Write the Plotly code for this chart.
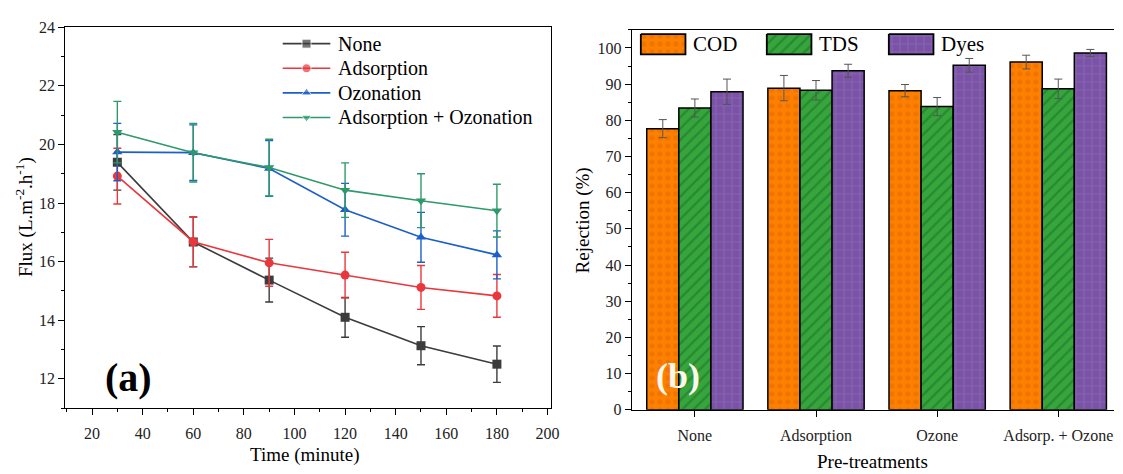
import plotly.graph_objects as go

# ---------------- data: panel (a) ----------------
time_min = [30, 60, 90, 120, 150, 180]
flux_none = [19.39, 16.67, 15.37, 14.10, 13.13, 12.50]
flux_none_err = [0.95, 0.85, 0.75, 0.68, 0.65, 0.62]
flux_ads = [18.92, 16.68, 15.96, 15.54, 15.12, 14.83]
flux_ads_err = [0.95, 0.85, 0.80, 0.78, 0.75, 0.73]
flux_oz = [19.74, 19.72, 19.18, 17.77, 16.83, 16.23]
flux_oz_err = [0.98, 0.95, 0.95, 0.90, 0.85, 0.82]
flux_adsoz = [20.42, 19.72, 19.21, 18.44, 18.08, 17.74]
flux_adsoz_err = [1.05, 1.00, 0.97, 0.93, 0.92, 0.90]

series_a = [
    ("None", flux_none, flux_none_err, "#3c3c3c", "square"),
    ("Adsorption", flux_ads, flux_ads_err, "#e8383d", "circle"),
    ("Ozonation", flux_oz, flux_oz_err, "#1c5fc9", "triangle-up"),
    ("Adsorption + Ozonation", flux_adsoz, flux_adsoz_err, "#2e9a6c", "triangle-down"),
]

# ---------------- data: panel (b) ----------------
pretreatments = ["None", "Adsorption", "Ozone", "Adsorp. + Ozone"]
cod = [77.7, 88.9, 88.2, 96.1]
cod_err = [2.5, 3.5, 1.7, 1.9]
tds = [83.4, 88.3, 83.8, 88.7]
tds_err = [2.5, 2.7, 2.5, 2.7]
dyes = [87.9, 93.7, 95.2, 98.6]
dyes_err = [3.5, 1.8, 1.9, 1.0]

W, H = 1123, 474
FONT = "Liberation Serif, Times New Roman, serif"

def px(x):
    return x / W

def py(y):
    return 1 - y / H

fig = go.Figure()

for name, vals, errs, col, sym in series_a:
    fig.add_trace(go.Scatter(
        x=time_min, y=vals, name=name, mode="lines+markers", showlegend=False,
        line=dict(color=col, width=1.6),
        marker=dict(symbol=sym, size=9, color=col),
        error_y=dict(type="data", array=errs, color=col, thickness=1.4, width=4),
        xaxis="x", yaxis="y",
    ))

bar_specs = [
    ("COD", cod, cod_err, "#ff8000", dict(shape=".", fgcolor="#e06a00", bgcolor="#ff8000", size=8, solidity=0.35)),
    ("TDS", tds, tds_err, "#36a53c", dict(shape="/", fgcolor="#1c6e27", bgcolor="#36a53c", size=8, solidity=0.3)),
    ("Dyes", dyes, dyes_err, "#7a52a6", dict(shape="+", fgcolor="#9677c0", bgcolor="#7a52a6", size=8, solidity=0.25)),
]
for name, vals, errs, col, pat in bar_specs:
    fig.add_trace(go.Bar(
        x=pretreatments, y=vals, name=name, showlegend=False,
        marker=dict(color=col, pattern=pat, line=dict(color="black", width=1.5)),
        error_y=dict(type="data", array=errs, color="#555555", thickness=1, width=4),
        xaxis="x2", yaxis="y2",
    ))

# ---- legends drawn on a pixel-coordinate overlay axis ----
# panel (a) legend: line sample with marker, then label
leg_a_rows = [37, 62.5, 88, 113.5]
for (name, _, _, col, sym), ry in zip(series_a, leg_a_rows):
    fig.add_trace(go.Scatter(
        x=[285, 309, 333], y=[ry, ry, ry], mode="lines+markers",
        line=dict(color=col, width=1.6), marker=dict(symbol=sym, size=[0, 9, 0], color=col),
        showlegend=False, hoverinfo="skip", xaxis="x3", yaxis="y3",
    ))
    fig.add_annotation(text=name, x=px(339), y=py(ry), xref="paper", yref="paper",
                       xanchor="left", yanchor="middle", showarrow=False,
                       font=dict(family=FONT, size=20, color="black"))

# panel (b) legend: patterned swatches
leg_b = [("COD", 646, "#ff8000", bar_specs[0][4]),
         ("TDS", 773, "#36a53c", bar_specs[1][4]),
         ("Dyes", 896, "#7a52a6", bar_specs[2][4])]
for name, x0, col, pat in leg_b:
    fig.add_trace(go.Scatter(
        x=[x0, x0 + 45, x0 + 45, x0, x0], y=[27, 27, 48, 48, 27],
        mode="lines", fill="toself", fillcolor=col, fillpattern=pat,
        line=dict(color="black", width=1.8), showlegend=False, hoverinfo="skip",
        xaxis="x3", yaxis="y3",
    ))
    fig.add_annotation(text=name, x=px(x0 + 51), y=py(37.5), xref="paper", yref="paper",
                       xanchor="left", yanchor="middle", showarrow=False,
                       font=dict(family=FONT, size=21, color="black"))

axis_common = dict(showgrid=False, zeroline=False, showline=True, linecolor="black",
                   linewidth=1.3, ticks="outside", tickcolor="black", ticklen=6,
                   tickfont=dict(family=FONT, size=16, color="#222"))

fig.update_layout(
    width=W, height=H, margin=dict(l=0, r=0, t=0, b=0),
    paper_bgcolor="white", plot_bgcolor="rgba(0,0,0,0)",
    font=dict(family=FONT, color="black"),
    barmode="group", bargap=0.205, bargroupgap=0,
    showlegend=False,
    xaxis=dict(domain=[px(66), px(555)], range=[9.5, 201.2], tick0=20, dtick=20,
               mirror=True, minor=dict(dtick=10, ticks="outside", ticklen=3, tickcolor="black"),
               ticklabelstandoff=5, anchor="y", **axis_common),
    yaxis=dict(domain=[py(415), py(20)], range=[11, 24], dtick=2, tick0=12,
               mirror=True, minor=dict(dtick=1, ticks="outside", ticklen=3, tickcolor="black"),
               anchor="x", **axis_common),
    xaxis2=dict(domain=[px(637), 1.0], range=[-0.52, 3.46], mirror=True, anchor="y2",
                ticklabelstandoff=5, **axis_common),
    yaxis2=dict(domain=[py(416.7), py(22.7)], range=[0, 105], dtick=10, tick0=0,
                minor=dict(dtick=5, ticks="outside", ticklen=3, tickcolor="black"),
                anchor="x2", **axis_common),
    xaxis3=dict(domain=[0, 1], range=[0, W], visible=False, anchor="y3", fixedrange=True),
    yaxis3=dict(domain=[0, 1], range=[H, 0], visible=False, anchor="x3", fixedrange=True),
)

ann = [
    dict(text="Time (minute)", x=px(307), y=py(464), size=19),
    dict(text="Flux (L.m<sup>-2</sup>.h<sup>-1</sup>)", x=px(24), y=py(217), size=19, angle=-90),
    dict(text="<b>(a)</b>", x=px(130), y=py(383), size=40),
    dict(text="Rejection (%)", x=px(588), y=py(220), size=19, angle=-90),
    dict(text="Pre-treatments", x=px(880), y=py(470), size=19),
]
for a in ann:
    fig.add_annotation(text=a["text"], x=a["x"], y=a["y"], xref="paper", yref="paper",
                       xanchor="center", yanchor="middle", showarrow=False,
                       textangle=a.get("angle", 0),
                       font=dict(family=FONT, size=a["size"], color="black"))

fig.add_annotation(text="<b>(b)</b>", x=px(683), y=py(382), xref="paper", yref="paper",
                   xanchor="center", yanchor="middle", showarrow=False,
                   font=dict(family=FONT, size=36, color="#fbf7ea"))

fig.write_html("out.html")
